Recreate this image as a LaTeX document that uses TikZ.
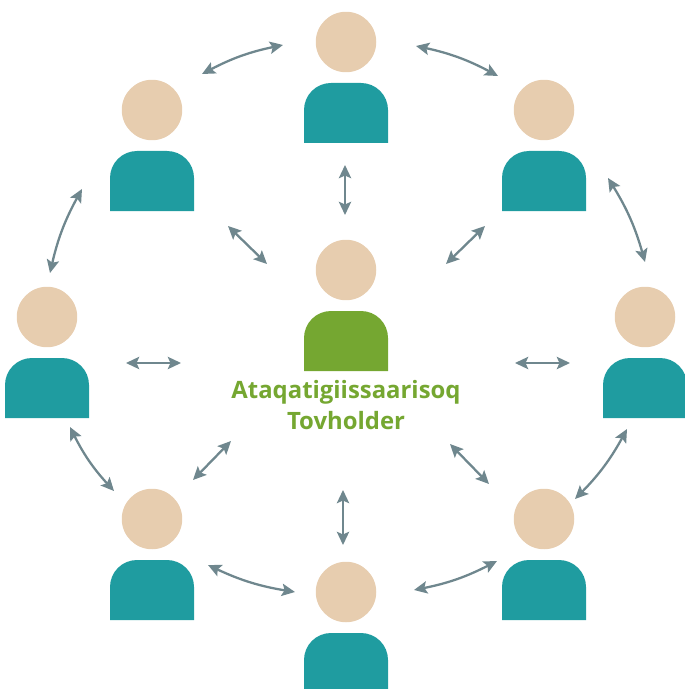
\documentclass[tikz,border=0pt]{standalone}
\usepackage{fontspec}
\setmainfont{Open Sans}
\usetikzlibrary{arrows.meta}
\definecolor{headskin}{HTML}{E7CDAF}
\definecolor{bodyteal}{HTML}{1F9CA0}
\definecolor{bodygreen}{HTML}{75A731}
\definecolor{linkgrey}{HTML}{6F878E}
\tikzset{
	head/.style={circle, fill=headskin, minimum size=1.21cm, inner sep=0pt},
	link/.style={draw=linkgrey, line width=1.3pt, {Stealth[length=7.5pt,width=7pt,inset=1.5pt]}-{Stealth[length=7.5pt,width=7pt,inset=1.5pt]}},
	title/.style={text=bodygreen, font=\bfseries\fontsize{13.6}{18}\selectfont, align=center}
}
\newcommand{\bodyshape}[3]{%
	\fill[#3] (#1-42,#2+101) [rounded corners=0.54cm] -- (#1-42,#2+41) -- (#1+42,#2+41) [sharp corners] -- (#1+42,#2+101) -- cycle;}
\begin{document}
\begin{tikzpicture}[x=0.02cm,y=-0.02cm]
	\useasboundingbox (0,0) rectangle (684,689);
	% people on the ring
	\foreach \name/\px/\py in {top/346/42, topleft/152/110, topright/544/110, left/47/317, right/645/317, botleft/152/519, botright/544/519, bot/346/592}{
		\node[head] (\name) at (\px,\py) {};
		\bodyshape{\px}{\py}{bodyteal}
	}
	% coordinator
	\node[head] (centre) at (346,270) {};
	\bodyshape{346}{270}{bodygreen}
	\node[title] (label) at (346,405) {Ataqatigiissaarisoq\\Tovholder};
	% arrow ends
	\foreach \name/\px/\py in {
		a1/283/45, a2/202/74, b1/416/46, b2/498/76,
		c1/608/178, c2/645/262, d1/627/429, d2/575/499,
		e1/497/561, e2/414/590, f1/295/592, f2/208/565,
		g1/114/491, g2/70/427, h1/50/273, h2/82/189,
		r1/345/165, r2/345/215, s1/228/226, s2/267/264,
		t1/485/226, t2/446/264, u1/126/363, u2/181/363,
		v1/515/363, v2/570/363, w1/231/441, w2/193/480,
		y1/450/444, y2/489/484, z1/343/490, z2/343/545}{
		\coordinate (\name) at (\px,\py);
	}
	\foreach \from/\to in {a1/a2, b2/b1, c2/c1, d2/d1, e2/e1, f2/f1, g2/g1, h2/h1}
		\draw[link] (\from) to[bend right=8] (\to);
	\foreach \from/\to in {r1/r2, s1/s2, t1/t2, u1/u2, v1/v2, w1/w2, y1/y2, z1/z2}
		\draw[link] (\from) -- (\to);
\end{tikzpicture}
\end{document}
